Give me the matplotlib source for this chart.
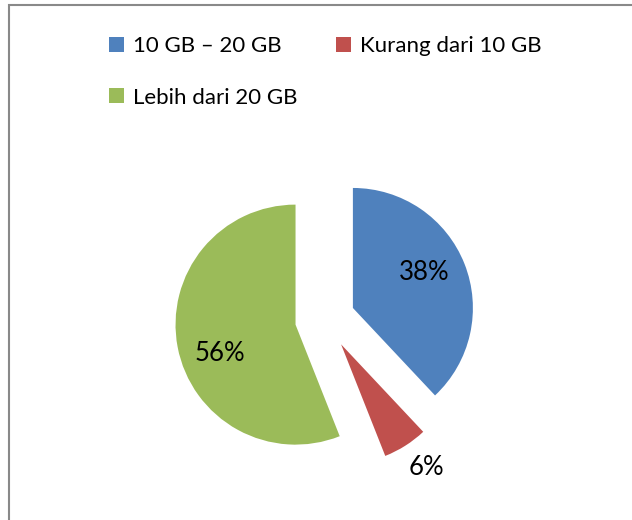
import matplotlib
matplotlib.use("Agg")
import matplotlib.pyplot as plt
from matplotlib.patches import Rectangle
import numpy as np

labels = ["10 GB – 20 GB", "Kurang dari 10 GB", "Lebih dari 20 GB"]
values = [38, 6, 56]
colors = ["#4F81BD", "#C0504D", "#9BBB59"]

W, H = 632, 520
fig = plt.figure(figsize=(W / 100, H / 100), dpi=100)
ax = fig.add_axes([0, 0, 1, 1])
R = 120.0
cx, cy = 325.0, 319.0  # pie centre in pixels, from top-left

wedges, texts, autotexts = ax.pie(
    values, colors=colors, startangle=90, counterclock=False,
    explode=[0.25] * 3, autopct='%.0f%%', pctdistance=0.67, radius=1,
    textprops=dict(fontsize=18.5, family='Lato', color='black'))

ax.set_aspect('auto')
ax.set_xlim(-cx / R, (W - cx) / R)
ax.set_ylim(-(H - cy) / R, cy / R)
ax.axis('off')

# label placement: (distance from exploded centre, angle offset in deg)
label_place = [(0.667, 5.0), (1.25, 2.5), (0.673, 10.0)]
for w, t, (d, off) in zip(wedges, autotexts, label_place):
    th = np.deg2rad((w.theta1 + w.theta2) / 2 + off)
    c = w.center
    t.set_position((c[0] + d * np.cos(th), c[1] + d * np.sin(th)))

# border
fig.patches.append(Rectangle((8.5 / W, -0.1), 2, (H - 5) / H + 0.1,
                             transform=fig.transFigure, fill=False,
                             edgecolor='#898989', linewidth=1.5))

order = [0, 2, 1]
leg = fig.legend([wedges[i] for i in order], [labels[i] for i in order],
                 ncol=2, loc='upper left', bbox_to_anchor=(109 / W, 1 - 36 / H),
                 frameon=False, borderpad=0, borderaxespad=0,
                 handlelength=0.675, handleheight=0.675, handletextpad=0.4,
                 columnspacing=1.72, labelspacing=1.42,
                 prop=dict(family='Lato', size=16))

fig.savefig("out.png", dpi=100)
